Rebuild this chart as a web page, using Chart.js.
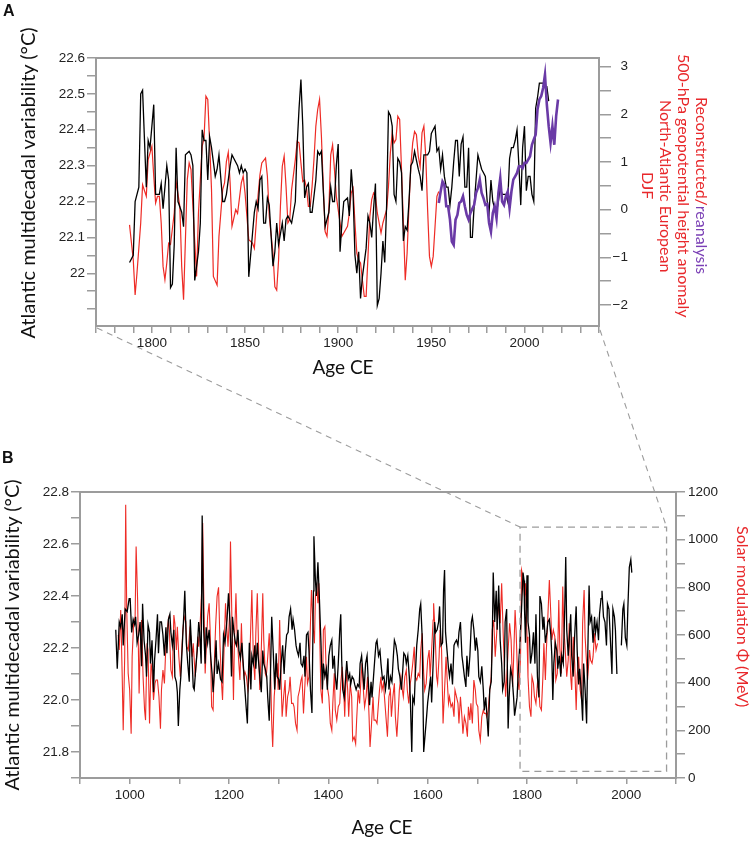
<!DOCTYPE html>
<html>
<head>
<meta charset="utf-8">
<script src="https://cdn.jsdelivr.net/npm/chart.js@4.4.1/dist/chart.umd.min.js"></script>
<style>
html,body{margin:0;padding:0;background:#fff;}
#wrap{position:relative;width:750px;height:842px;overflow:hidden;background:#fff;}
#wrap canvas{position:absolute;left:0;}
.vt{position:absolute;width:400px;height:24px;line-height:24px;text-align:center;font-family:Lato,'Open Sans',sans-serif;font-size:20px;color:#111;white-space:nowrap;transform:rotate(-90deg);}
.ht{position:absolute;width:200px;height:24px;line-height:24px;text-align:center;font-family:Lato,'Open Sans',sans-serif;font-size:19px;color:#111;white-space:nowrap;}
.vr{position:absolute;writing-mode:vertical-rl;height:300px;text-align:center;font-family:Lato,'Open Sans',sans-serif;font-size:16px;line-height:18px;color:#e8282b;white-space:nowrap;}
.pl{position:absolute;font-family:'Liberation Sans',Arial,sans-serif;font-weight:bold;font-size:16px;line-height:16px;color:#111;}
</style>
</head>
<body>
<div id="wrap">
  <canvas id="ca" width="750" height="380" style="top:0px"></canvas>
  <canvas id="cb" width="750" height="462" style="top:380px"></canvas>
  <canvas id="ov" width="750" height="842" style="top:0px;pointer-events:none"></canvas>
  <div class="pl" style="left:3px;top:3px">A</div>
  <div class="pl" style="left:2px;top:450px">B</div>
  <div class="vt" style="left:-173px;top:171px">Atlantic multidecadal variability (°C)</div>
  <div class="vt" style="left:-189.5px;top:623px">Atlantic multidecadal variability (°C)</div>
  <div class="ht" style="left:243px;top:355px">Age CE</div>
  <div class="ht" style="left:282px;top:815px">Age CE</div>
  <div class="vr" style="left:639px;top:36px"><span>Reconstructed/</span><span style="color:#7a3fb5">reanalysis</span><br>500-hPa geopotential height anomaly<br>North-Atlantic European<br>DJF</div>
  <div class="vr" style="left:734px;top:467px">Solar modulation Φ (MeV)</div>
</div>
<script>
// ---------------- Panel A data ----------------
const aAmvYears = [
1788,1790,1791,1793,1794,1795,1797,1798,1799,1801,
1802,1804,1805,1806,1808,1809,1810,1811,1812,1813,
1814,1816,1817,1818,1820,1821,1822,1823,1825,1826,
1827,1828,1829,1830,1831,1832,1834,1835,1836,1838,
1839,1840,1842,1843,1844,1846,1847,1848,1849,1850,
1851,1852,1854,1855,1856,1857,1858,1859,1860,1861,
1862,1863,1865,1866,1867,1868,1870,1871,1872,1873,
1874,1875,1877,1878,1879,1880,1881,1882,1883,1884,
1885,1886,1888,1889,1890,1891,1892,1893,1895,1896,
1897,1898,1899,1900,1901,1902,1903,1905,1906,1907,
1908,1909,1910,1911,1912,1913,1915,1916,1917,1918,
1919,1920,1921,1922,1923,1924,1925,1926,1927,1928,
1929,1930,1931,1932,1933,1934,1935,1936,1937,1938,
1939,1940,1941,1943,1944,1945,1946,1947,1948,1949,
1950,1951,1952,1953,1954,1955,1956,1957,1958,1959,
1960,1961,1962,1963,1964,1965,1966,1967,1968,1969,
1970,1971,1972,1973,1974,1975,1976,1977,1978,1979,
1980,1981,1982,1983,1984,1985,1986,1987,1988,1989,
1990,1991,1992,1993,1994,1995,1996,1997,1998,1999,
2000,2001,2002,2003,2004,2005,2006,2007,2008,2009,
2010,2011,2012,2013];
const aAmvValues = [
22.03,22.05,22.20,22.24,22.50,22.51,22.24,22.37,22.35,22.47,
22.22,22.22,22.25,22.18,22.30,22.26,21.96,21.97,22.08,22.35,
22.20,22.17,22.13,22.33,22.34,22.33,22.30,21.98,22.06,22.14,
22.40,22.37,22.37,22.26,22.38,22.35,22.27,22.29,22.33,22.20,
22.20,22.22,22.30,22.33,22.32,22.30,22.28,22.30,22.28,22.29,
22.28,21.99,22.11,22.17,22.20,22.18,22.26,22.27,22.14,22.14,
22.21,22.19,22.02,22.06,22.14,22.08,22.14,22.09,22.15,22.16,
22.15,22.14,22.20,22.36,22.46,22.54,22.41,22.21,22.24,22.25,
22.17,22.17,22.26,22.34,22.33,22.34,22.23,22.13,22.17,22.24,
22.20,22.20,22.30,22.36,22.06,22.14,22.20,22.21,22.16,22.29,
22.22,22.05,22.00,22.06,21.93,21.99,22.07,22.16,22.14,22.10,
22.18,22.25,21.91,21.93,22.00,22.09,22.03,22.19,22.45,22.44,
22.41,22.22,22.20,22.32,22.31,22.28,22.09,22.13,22.12,22.20,
22.30,22.31,22.34,22.29,22.27,22.23,22.33,22.33,22.33,22.34,
22.39,22.40,22.41,22.34,22.35,22.29,22.33,22.27,22.24,22.24,
22.19,22.24,22.31,22.37,22.37,22.27,22.36,22.38,22.24,22.24,
22.35,22.10,22.10,22.19,22.26,22.33,22.31,22.29,22.28,22.27,
22.20,22.17,22.26,22.20,22.18,22.17,22.20,22.24,22.22,22.22,
22.22,22.20,22.32,22.35,22.35,22.37,22.40,22.30,22.19,22.35,
22.41,22.23,22.27,22.27,22.22,22.20,22.46,22.49,22.53,22.53,
22.53,22.52,22.52,22.48];

const aZ500Years = [
1788,1790,1791,1792,1794,1795,1797,1798,1800,1801,
1802,1803,1804,1805,1806,1807,1808,1809,1810,1812,
1813,1815,1816,1817,1818,1819,1820,1821,1823,1824,
1825,1827,1828,1829,1830,1831,1832,1833,1835,1836,
1838,1839,1840,1841,1842,1843,1844,1845,1846,1848,
1849,1850,1851,1852,1854,1855,1856,1857,1858,1859,
1861,1862,1863,1865,1866,1867,1868,1869,1870,1871,
1872,1873,1874,1875,1877,1878,1879,1880,1881,1882,
1883,1884,1885,1886,1887,1888,1889,1890,1891,1892,
1893,1894,1895,1896,1897,1898,1899,1900,1901,1902,
1903,1905,1906,1907,1908,1909,1910,1911,1912,1913,
1914,1915,1916,1917,1918,1919,1920,1921,1923,1924,
1926,1927,1928,1929,1930,1931,1932,1933,1934,1935,
1936,1937,1938,1939,1940,1941,1942,1943,1944,1945,
1946,1947,1948,1949,1950,1951,1952,1953,1954];
const aZ500Values = [
-0.32,-1.05,-1.79,-1.33,-0.28,0.52,0.28,1.05,1.33,0.70,
0.14,0.28,0.28,-0.28,-1.19,-1.47,-1.12,-0.70,-0.73,-0.07,
0.59,0.07,-1.19,-1.89,-0.63,0.63,0.98,0.84,-0.67,-1.40,
-0.07,1.33,1.50,2.38,2.31,1.40,0.42,-1.40,-1.58,-0.56,
0.42,0.56,1.01,1.20,0.56,-0.35,-0.18,0.00,-0.08,0.56,
0.70,0.35,-0.14,-0.63,-0.70,-0.81,-0.28,0.30,0.73,0.98,
1.08,0.70,-0.14,-0.91,-1.62,-1.69,-1.06,0.07,0.91,1.12,
0.49,-0.28,-0.21,0.42,1.05,1.43,1.40,0.98,0.59,0.62,
0.45,0.07,0.07,0.49,1.05,1.75,2.10,2.31,1.54,0.49,
-0.46,-0.56,0.00,1.15,1.36,0.84,0.28,0.00,-0.28,-0.56,
-0.49,-0.35,-0.07,0.35,0.45,-0.28,-0.91,-1.06,-1.12,-1.48,
-1.82,-1.82,-0.98,-0.14,0.21,0.35,0.28,-0.07,-0.49,-0.28,
0.00,0.49,1.19,1.61,1.40,1.47,1.96,1.89,0.84,-0.28,
-1.48,-0.91,0.07,0.91,1.40,1.64,1.57,1.12,0.90,1.61,
1.75,1.12,0.00,-0.98,-1.19,-0.98,-0.35,0.28,0.38];

const aReanYears = [
1954,1955,1956,1957,1958,1959,1960,1961,1962,1963,
1964,1965,1966,1967,1968,1969,1970,1971,1972,1973,
1974,1975,1976,1977,1978,1979,1980,1981,1982,1983,
1984,1985,1986,1987,1988,1989,1990,1991,1992,1993,
1994,1995,1996,1997,1998,1999,2000,2001,2002,2003,
2004,2005,2006,2007,2008,2009,2010,2011,2012,2013,
2014,2015,2016,2017,2018];
const aReanValues = [
0.14,0.38,0.59,0.52,0.07,0.07,-0.21,-0.67,-0.74,-0.21,
-0.11,0.14,0.17,0.28,0.07,-0.11,-0.21,-0.07,0.02,0.10,
0.35,0.45,0.63,0.35,0.24,0.10,0.12,-0.28,-0.46,-0.07,
0.07,-0.18,0.35,0.66,0.17,0.10,0.28,0.38,0.03,0.38,
0.63,0.70,0.77,0.91,0.91,0.87,0.98,0.98,1.05,1.12,
1.36,1.47,1.57,2.10,2.31,2.38,2.55,2.83,2.20,1.75,
1.40,1.75,1.36,1.96,2.31];

// Panel A ticks and labels
const aXTicks = [1770,1780,1790,1800,1810,1820,1830,1840,1850,1860,1870,1880,1890,1900,1910,1920,1930,1940,1950,1960,1970,1980,1990,2000,2010,2020,2030,2040];
const aXLabels = [1800,1850,1900,1950,2000];
const aLeftTicks = [21.9,21.95,22,22.05,22.1,22.15,22.2,22.25,22.3,22.35,22.4,22.45,22.5,22.55,22.6];
const aLeftLabels = [22,22.1,22.2,22.3,22.4,22.5,22.6];
const aRightTicks = [-2,-1.5,-1,-0.5,0,0.5,1,1.5,2,2.5,3];
const aRightLabels = [-2,-1,0,1,2,3];

// ---------------- Panel B data ----------------
const bAmvYears = [
972,975,979,982,985,987,991,995,999,1001,
1004,1007,1010,1012,1015,1018,1021,1024,1026,1029,
1032,1034,1037,1040,1042,1045,1048,1050,1053,1056,
1058,1061,1064,1067,1070,1073,1075,1078,1081,1083,
1086,1089,1091,1094,1096,1098,1101,1103,1106,1109,
1111,1114,1117,1120,1122,1125,1128,1130,1133,1136,
1139,1141,1144,1146,1149,1152,1154,1157,1160,1163,
1166,1168,1171,1174,1176,1179,1183,1186,1189,1192,
1196,1199,1202,1205,1207,1210,1213,1215,1218,1220,
1223,1226,1229,1232,1235,1237,1239,1241,1244,1246,
1249,1252,1254,1257,1259,1262,1265,1268,1270,1273,
1276,1278,1281,1284,1286,1289,1292,1295,1297,1300,
1302,1305,1308,1311,1313,1316,1319,1321,1324,1327,
1329,1332,1335,1337,1340,1343,1345,1348,1351,1353,
1356,1359,1361,1364,1367,1370,1371,1374,1376,1379,
1382,1385,1388,1390,1393,1396,1398,1401,1404,1407,
1409,1412,1414,1417,1420,1423,1425,1427,1429,1432,
1435,1437,1440,1443,1445,1448,1451,1453,1456,1459,
1462,1464,1467,1470,1472,1475,1478,1480,1483,1486,
1488,1491,1494,1496,1498,1501,1504,1506,1509,1512,
1515,1517,1520,1522,1525,1528,1531,1533,1536,1539,
1541,1544,1547,1549,1552,1555,1557,1560,1563,1565,
1568,1570,1573,1575,1578,1581,1584,1586,1589,1592,
1595,1598,1600,1603,1606,1608,1611,1614,1616,1619,
1622,1624,1627,1630,1632,1634,1636,1639,1642,1644,
1647,1650,1653,1655,1658,1661,1663,1666,1669,1671,
1674,1677,1679,1682,1685,1688,1690,1693,1696,1698,
1701,1703,1706,1709,1712,1714,1717,1720,1722,1725,
1728,1730,1732,1735,1738,1740,1743,1746,1749,1751,
1754,1756,1759,1762,1764,1767,1770,1773,1775,1778,
1780,1783,1786,1789,1792,1794,1795,1797,1800,1802,
1805,1807,1810,1813,1816,1818,1821,1824,1826,1829,
1832,1834,1837,1840,1842,1845,1848,1850,1852,1854,
1857,1860,1862,1865,1868,1870,1873,1876,1878,1880,
1883,1885,1888,1890,1893,1896,1899,1901,1904,1906,
1909,1912,1914,1917,1920,1922,1925,1927,1930,1933,
1936,1938,1941,1944,1946,1949,1951,1954,1957,1960,
1962,1965,1967,1971,1973,1976,1978,1981,1985,1990,
1993,1995,1998,2001,2003,2006,2009,2011];
const bAmvValues = [
22.27,22.12,22.30,22.28,22.33,22.21,22.35,22.34,22.39,22.39,
22.26,22.31,22.29,22.32,22.22,22.25,22.30,22.13,22.37,22.23,
22.17,22.09,22.29,22.26,22.14,22.23,22.03,22.15,22.23,22.33,
22.18,22.30,22.30,22.25,22.17,22.28,22.18,22.31,22.33,22.26,
22.21,22.27,22.09,22.07,22.03,21.90,22.04,22.09,22.21,22.33,
22.42,22.22,22.14,22.07,22.31,22.19,22.05,22.04,22.12,22.19,
22.30,22.26,22.14,22.71,22.27,22.14,22.28,22.22,22.27,22.17,
22.10,22.03,22.12,22.23,22.10,22.14,22.08,22.07,22.25,22.22,
22.31,22.41,22.30,22.09,22.32,22.26,22.22,22.21,22.27,22.19,
22.16,22.22,22.13,22.04,21.96,21.91,22.09,22.22,22.04,22.17,
22.14,22.21,22.12,22.22,22.16,22.09,22.03,22.19,22.14,22.12,
22.09,22.01,21.92,22.14,22.32,22.19,22.04,22.18,22.09,22.08,
22.04,22.14,22.21,22.10,22.18,22.25,22.26,22.32,22.35,22.27,
22.31,22.27,22.21,22.19,22.17,22.22,22.14,22.13,22.17,22.09,
22.25,22.26,22.19,22.04,21.95,22.42,22.63,22.46,22.40,22.53,
22.39,22.23,22.04,22.14,22.09,22.12,22.04,22.17,22.21,22.23,
22.12,22.17,22.09,22.04,22.14,22.27,22.33,22.15,22.04,22.01,
22.09,22.15,22.08,22.10,22.06,22.09,22.08,22.06,22.04,22.06,
22.05,22.14,22.17,22.09,22.04,22.14,22.17,22.09,21.98,22.07,
22.01,22.09,22.17,22.22,22.23,22.17,22.19,22.14,22.08,22.09,
22.04,22.07,22.16,22.04,22.09,22.07,22.17,22.23,22.21,22.17,
22.12,22.09,22.04,22.09,22.18,22.17,22.14,22.17,22.09,22.01,
21.80,22.01,21.99,22.09,22.21,22.27,22.35,22.37,22.24,21.80,
21.87,21.94,21.99,22.04,22.09,21.99,22.14,22.30,22.26,22.27,
22.30,22.36,22.21,22.22,22.42,22.50,22.26,22.19,22.12,22.09,
22.14,22.06,22.21,22.22,22.23,22.21,22.26,22.30,22.17,22.14,
22.09,22.05,22.17,22.09,22.17,22.30,22.32,22.27,22.19,22.24,
22.19,22.09,22.07,22.13,22.04,21.96,22.01,21.92,21.86,22.04,
22.07,22.22,22.49,22.30,22.42,22.27,22.44,22.23,22.14,22.04,
22.07,22.30,22.35,21.89,22.01,22.12,22.09,22.01,21.94,21.98,
22.01,22.13,22.23,22.35,22.49,22.46,22.35,22.22,22.48,22.30,
22.25,22.14,22.18,22.26,22.14,22.33,22.09,22.01,22.40,22.37,
22.27,22.32,22.22,22.26,22.30,22.31,22.25,22.17,22.00,22.14,
22.22,22.19,22.12,22.17,22.09,22.17,22.14,22.35,22.55,22.27,
22.17,22.23,22.33,22.17,22.09,22.25,22.36,22.19,22.06,22.12,
22.04,21.92,22.14,22.04,21.91,22.14,22.44,22.30,22.32,22.22,
22.32,22.26,22.30,22.23,22.33,22.39,22.42,22.32,22.30,22.21,
22.37,22.35,22.27,22.10,22.35,22.32,22.27,22.10,null,22.21,
22.35,22.37,22.24,22.21,22.35,22.51,22.54,22.49];

const bPhiYears = [
977,979,982,985,987,990,992,994,997,1000,
1003,1005,1008,1011,1013,1016,1019,1021,1024,1027,
1030,1032,1035,1037,1040,1043,1045,1048,1051,1053,
1056,1059,1062,1064,1067,1070,1072,1075,1078,1080,
1083,1086,1089,1091,1094,1096,1099,1102,1105,1107,
1110,1113,1115,1118,1121,1123,1126,1128,1132,1134,
1137,1139,1142,1145,1147,1149,1152,1154,1157,1160,
1162,1165,1168,1170,1173,1176,1179,1182,1185,1187,
1190,1193,1195,1198,1201,1203,1206,1209,1211,1214,
1216,1219,1222,1225,1227,1230,1232,1235,1238,1241,
1243,1246,1249,1252,1254,1257,1260,1262,1265,1268,
1270,1273,1275,1278,1281,1284,1286,1288,1291,1294,
1297,1299,1302,1305,1307,1310,1313,1315,1318,1321,
1323,1326,1329,1331,1334,1337,1339,1342,1345,1347,
1350,1353,1356,1358,1361,1363,1366,1369,1372,1374,
1377,1379,1381,1383,1385,1388,1390,1393,1396,1399,
1401,1404,1407,1409,1412,1414,1417,1420,1423,1425,
1428,1431,1433,1436,1439,1441,1444,1447,1449,1452,
1455,1457,1460,1463,1466,1468,1471,1473,1476,1479,
1482,1484,1487,1490,1492,1495,1498,1500,1503,1506,
1508,1511,1514,1517,1519,1522,1525,1527,1530,1533,
1535,1538,1541,1543,1546,1549,1551,1554,1557,1559,
1562,1565,1567,1570,1573,1575,1578,1581,1584,1586,
1589,1592,1594,1597,1600,1603,1605,1608,1611,1612,
1615,1618,1620,1623,1625,1628,1631,1634,1637,1639,
1642,1644,1647,1650,1653,1655,1658,1661,1663,1666,
1669,1671,1674,1677,1680,1682,1685,1687,1690,1693,
1696,1698,1701,1703,1706,1709,1712,1714,1717,1719,
1722,1725,1728,1730,1733,1736,1739,1741,1744,1746,
1749,1752,1755,1757,1760,1762,1765,1768,1771,1773,
1776,1778,1781,1784,1787,1789,1792,1795,1797,1800,
1802,1805,1808,1810,1813,1815,1818,1821,1824,1826,
1829,1832,1834,1837,1839,1842,1845,1847,1850,1853,
1856,1858,1861,1864,1866,1869,1872,1874,1877,1880,
1883,1885,1888,1890,1893,1896,1899,1901,1904,1907,
1910,1912,1915,1917,1920,1922,1926,1928,1931,1933,
1936,1939,1942];
const bPhiValues = [
600,537,705,425,200,509,1147,719,439,369,
186,509,649,677,971,747,355,537,663,425,
285,243,565,537,229,481,453,327,397,411,
411,341,207,369,453,397,509,607,663,621,
453,425,684,649,537,635,509,425,537,621,
677,656,551,537,621,593,509,565,425,481,
593,551,649,789,1070,789,439,537,677,733,
621,299,285,453,635,761,800,551,397,327,
537,733,649,551,677,992,649,327,579,775,
621,509,411,649,509,425,446,425,369,425,
579,789,509,411,607,775,509,369,537,775,
579,439,425,509,607,425,229,130,341,425,
481,369,663,397,257,341,411,257,341,369,
425,313,313,299,229,200,341,369,411,425,
271,397,509,397,425,579,789,649,565,761,
803,733,817,560,369,313,621,635,425,369,
341,229,200,313,439,285,243,299,313,397,
467,369,257,453,369,257,397,341,158,172,
144,243,369,313,425,481,355,299,341,425,
257,130,229,341,243,243,229,285,369,425,
369,397,313,229,173,341,369,257,341,397,
257,173,285,369,425,369,341,425,453,369,
313,397,425,481,551,425,411,439,425,537,
607,439,369,397,495,537,425,537,663,733,
607,425,397,509,621,537,229,369,509,425,
313,341,299,313,257,369,341,313,229,341,
257,186,257,229,173,299,243,313,229,411,
369,313,299,200,158,257,285,271,271,257,
285,369,425,621,663,509,607,677,733,649,
817,607,439,341,453,537,649,579,383,495,
705,621,425,369,509,873,845,761,817,593,
425,299,257,425,397,341,313,397,369,299,
285,425,565,411,537,677,831,733,579,621,
593,411,439,747,551,439,803,635,537,425,
495,649,425,369,593,481,285,425,509,369,
327,649,789,593,481,411,537,495,481,509,
607,537,565];

// Panel B ticks and labels
const bXTicks = [900,1000,1100,1200,1300,1400,1500,1600,1700,1800,1900,2000,2100];
const bXLabels = [1000,1200,1400,1600,1800,2000];
const bLeftTicks = [21.7,21.8,21.9,22.0,22.1,22.2,22.3,22.4,22.5,22.6,22.7,22.8];
const bLeftLabels = [21.8,22.0,22.2,22.4,22.6,22.8];
const bRightTicks = [0,100,200,300,400,500,600,700,800,900,1000,1100,1200];
const bRightLabels = [0,200,400,600,800,1000,1200];
// Region of panel B enlarged in panel A (years, MeV)
const zoomFrom = 1786, zoomTo = 2081, zoomLow = 28, zoomHigh = 1053;

// ---------------- helpers ----------------
const RED = '#ee2b25', PURPLE = '#6a3aa6', GRAY = '#9c9c9c';
const pts = (xs, ys) => { const n = Math.min(xs.length, ys.length); const o = []; for (let i = 0; i < n; i++) o.push({x: xs[i], y: ys[i]}); return o; };
const setTicks = vals => scale => { scale.ticks = vals.map(v => ({value: v})); };
const isIn = (arr, v) => arr.some(a => Math.abs(a - v) < 1e-6);
const tickFont = {family: "'Liberation Sans', Arial, Helvetica, sans-serif", size: 13.5};
const grid = len => ({display: true, drawOnChartArea: false, drawTicks: true, tickLength: len, color: GRAY, lineWidth: 1.5});
const minus = v => v < 0 ? '\u2212' + Math.abs(v) : String(v);

const framePlugin = {
  id: 'frame',
  afterDatasetsDraw(chart) {
    const {ctx, chartArea: a} = chart;
    ctx.save();
    ctx.strokeStyle = GRAY; ctx.lineWidth = 2;
    ctx.strokeRect(a.left, a.top, a.right - a.left, a.bottom - a.top);
    ctx.restore();
  }
};
const zoomBoxPlugin = {
  id: 'zoomBox',
  afterDatasetsDraw(chart) {
    const {ctx, scales} = chart;
    const x0 = scales.x.getPixelForValue(zoomFrom), x1 = scales.x.getPixelForValue(zoomTo);
    const y0 = scales.yR.getPixelForValue(zoomHigh), y1 = scales.yR.getPixelForValue(zoomLow);
    ctx.save();
    ctx.strokeStyle = GRAY; ctx.lineWidth = 1.3; ctx.setLineDash([7, 5]);
    ctx.strokeRect(x0, y0, x1 - x0, y1 - y0);
    ctx.restore();
  }
};

const common = {
  responsive: false, animation: false, events: [],
  plugins: {legend: {display: false}, tooltip: {enabled: false}},
  elements: {point: {radius: 0}, line: {tension: 0}},
};

// ---------------- Chart A ----------------
const chartA = new Chart(document.getElementById('ca'), {
  type: 'line',
  data: {datasets: [
    {label: 'Reanalysis', data: pts(aReanYears, aReanValues), yAxisID: 'yR', borderColor: PURPLE, borderWidth: 2.6, order: 0, spanGaps: false},
    {label: 'AMV', data: pts(aAmvYears, aAmvValues), yAxisID: 'yL', borderColor: '#000', borderWidth: 1.3, order: 1},
    {label: 'Z500 DJF', data: pts(aZ500Years, aZ500Values), yAxisID: 'yR', borderColor: RED, borderWidth: 1.2, order: 2},
  ]},
  options: Object.assign({}, common, {
    layout: {padding: {top: 58, left: 0, right: 122, bottom: 0}},
    scales: {
      x: {type: 'linear', position: 'bottom', min: 1770, max: 2040,
          afterBuildTicks: setTicks(aXTicks), afterFit: s => { s.height = 54; },
          grid: grid(7), border: {display: false},
          ticks: {autoSkip: false, maxRotation: 0, minRotation: 0, padding: 2, font: tickFont, color: '#222',
                  callback: v => isIn(aXLabels, v) ? String(v) : ''}},
      yL: {type: 'linear', position: 'left', min: 21.853, max: 22.6,
          afterBuildTicks: setTicks(aLeftTicks), afterFit: s => { s.width = 96; },
          grid: grid(9), border: {display: false},
          ticks: {autoSkip: false, padding: 2, font: tickFont, color: '#222',
                  callback: v => isIn(aLeftLabels, v) ? String(+v.toFixed(2)) : ''}},
      yR: {type: 'linear', position: 'right', min: -2.44, max: 3.18,
          afterBuildTicks: setTicks(aRightTicks), afterFit: s => { s.width = 29; },
          grid: grid(12), border: {display: false},
          ticks: {autoSkip: false, padding: 2, crossAlign: 'far', font: tickFont, color: '#222',
                  callback: v => isIn(aRightLabels, v) ? minus(v) : ''}}
    }
  }),
  plugins: [framePlugin]
});

// ---------------- Chart B ----------------
const chartB = new Chart(document.getElementById('cb'), {
  type: 'line',
  data: {datasets: [
    {label: 'AMV', data: pts(bAmvYears, bAmvValues), yAxisID: 'yL', borderColor: '#000', borderWidth: 1.3, order: 0, spanGaps: false},
    {label: 'Solar modulation', data: pts(bPhiYears, bPhiValues), yAxisID: 'yR', borderColor: RED, borderWidth: 1.1, order: 1},
  ]},
  options: Object.assign({}, common, {
    layout: {padding: {top: 112, left: 0, right: 0, bottom: 0}},
    scales: {
      x: {type: 'linear', position: 'bottom', min: 900, max: 2100,
          afterBuildTicks: setTicks(bXTicks), afterFit: s => { s.height = 64; },
          grid: grid(6), border: {display: false},
          ticks: {autoSkip: false, maxRotation: 0, minRotation: 0, padding: 3, font: tickFont, color: '#222',
                  callback: v => isIn(bXLabels, v) ? String(v) : ''}},
      yL: {type: 'linear', position: 'left', min: 21.7, max: 22.8,
          afterBuildTicks: setTicks(bLeftTicks), afterFit: s => { s.width = 80; },
          grid: grid(9), border: {display: false},
          ticks: {autoSkip: false, padding: 2, font: tickFont, color: '#222',
                  callback: v => isIn(bLeftLabels, v) ? v.toFixed(1) : ''}},
      yR: {type: 'linear', position: 'right', min: 0, max: 1200,
          afterBuildTicks: setTicks(bRightTicks), afterFit: s => { s.width = 74; },
          grid: grid(9), border: {display: false},
          ticks: {autoSkip: false, padding: 3, font: tickFont, color: '#222',
                  callback: v => isIn(bRightLabels, v) ? String(v) : ''}}
    }
  }),
  plugins: [framePlugin, zoomBoxPlugin]
});

// ---------------- connector lines (panel A frame -> zoom box in B) ----------------
(function drawConnectors() {
  const ov = document.getElementById('ov').getContext('2d');
  const a = chartA.chartArea;
  const topB = 380;
  const xs = chartB.scales.x, yr = chartB.scales.yR;
  const bl = xs.getPixelForValue(zoomFrom), br = xs.getPixelForValue(zoomTo);
  const bt = yr.getPixelForValue(zoomHigh) + topB;
  ov.save();
  ov.strokeStyle = GRAY; ov.lineWidth = 1.1; ov.setLineDash([6, 5]);
  ov.beginPath(); ov.moveTo(a.left + 1, a.bottom + 2); ov.lineTo(bl, bt); ov.stroke();
  ov.beginPath(); ov.moveTo(a.right + 1, a.bottom + 4); ov.lineTo(br, bt); ov.stroke();
  ov.restore();
})();
</script>
</body>
</html>
